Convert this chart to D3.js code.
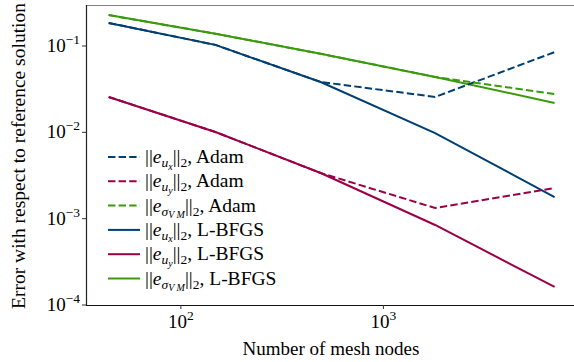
<!DOCTYPE html>
<html>
<head>
<meta charset="utf-8">
<script src="https://cdn.jsdelivr.net/npm/d3@7"></script>
<style>
  body { margin: 0; background: #fff; }
  svg { font-family: "Liberation Serif", "DejaVu Serif", serif; }
</style>
</head>
<body>
<div id="chart"></div>
<script>
// mesh sizes (x) and error values
const nodes = [44, 148, 490, 1800, 7000];
const uxAdam = [0.185, 0.103, 0.0383, 0.0257, 0.085];
const uyAdam = [0.0257, 0.0101, 0.00338, 0.00133, 0.00226];
const vmAdam = [0.228, 0.139, 0.0812, 0.0438, 0.0278];
const uxLbfgs = [0.185, 0.103, 0.0383, 0.0098, 0.00178];
const uyLbfgs = [0.0257, 0.0101, 0.00338, 0.000845, 0.000162];
const vmLbfgs = [0.228, 0.139, 0.0812, 0.0438, 0.0219];

const xTicks = [100, 1000];
const xTickExp = ["2", "3"];
const yTicks = [1e-1, 1e-2, 1e-3, 1e-4];
const yTickExp = ["\u22121", "\u22122", "\u22123", "\u22124"];

const blue = "#003f72", red = "#9b0047", green = "#3a9a0c";

// label pieces: [text, italic, level]  level 0 = normal, 1 = sub, 2 = subsub
const subUx = [["u", 1, 1], ["x", 1, 2]];
const subUy = [["u", 1, 1], ["y", 1, 2]];
const subVM = [["\u03c3", 1, 1], ["V M", 1, 2]];

const series = [
  { vals: uxAdam, color: blue, dash: true, sub: subUx, opt: "Adam" },
  { vals: uyAdam, color: red, dash: true, sub: subUy, opt: "Adam" },
  { vals: vmAdam, color: green, dash: true, sub: subVM, opt: "Adam" },
  { vals: uxLbfgs, color: blue, dash: false, sub: subUx, opt: "L-BFGS" },
  { vals: uyLbfgs, color: red, dash: false, sub: subUy, opt: "L-BFGS" },
  { vals: vmLbfgs, color: green, dash: false, sub: subVM, opt: "L-BFGS" }
];

const width = 574, height = 362;
const margin = { top: 5, right: 0, bottom: 57, left: 86 };

const svg = d3.select("#chart").append("svg")
  .attr("width", width)
  .attr("height", height);

const x = d3.scaleLog()
  .domain([34.0, 8730])
  .range([margin.left, width - margin.right]);

const y = d3.scaleLog()
  .domain([1e-4, 0.2985])
  .range([height - margin.bottom, margin.top]);

// lines (draw L-BFGS first so the dashed Adam lines sit on top)
const line = d3.line()
  .x((d, i) => x(nodes[i]))
  .y(d => y(d));

[3, 4, 5, 0, 1, 2].forEach(k => {
  const s = series[k];
  svg.append("path")
    .datum(s.vals)
    .attr("d", line)
    .attr("fill", "none")
    .attr("stroke", s.color)
    .attr("stroke-width", 2)
    .attr("stroke-dasharray", s.dash ? "7.4,3.2" : null);
});

// spines
svg.append("line")
  .attr("x1", margin.left).attr("x2", width)
  .attr("y1", margin.top + 0.5).attr("y2", margin.top + 0.5)
  .attr("stroke", "#808080").attr("stroke-width", 1.2);
svg.append("line")
  .attr("x1", margin.left + 0.5).attr("x2", margin.left + 0.5)
  .attr("y1", margin.top).attr("y2", height - margin.bottom)
  .attr("stroke", "#222").attr("stroke-width", 1.2);
svg.append("line")
  .attr("x1", margin.left).attr("x2", width)
  .attr("y1", height - margin.bottom + 0.5).attr("y2", height - margin.bottom + 0.5)
  .attr("stroke", "#111").attr("stroke-width", 1.2);

// x ticks
const xb = height - margin.bottom;
xTicks.forEach((t, i) => {
  svg.append("line")
    .attr("x1", x(t)).attr("x2", x(t))
    .attr("y1", xb).attr("y2", xb + 4)
    .attr("stroke", "#333").attr("stroke-width", 1);
  const txt = svg.append("text")
    .attr("x", x(t)).attr("y", xb + 23)
    .attr("text-anchor", "middle")
    .attr("font-size", 19);
  txt.append("tspan").text("10");
  txt.append("tspan").attr("dy", -8).attr("font-size", 13.5).text(xTickExp[i]);
});

// y ticks
yTicks.forEach((t, i) => {
  svg.append("line")
    .attr("x1", margin.left - 4).attr("x2", margin.left)
    .attr("y1", y(t)).attr("y2", y(t))
    .attr("stroke", "#333").attr("stroke-width", 1);
  const txt = svg.append("text")
    .attr("x", margin.left - 6).attr("y", y(t) + 6)
    .attr("text-anchor", "end")
    .attr("font-size", 19);
  txt.append("tspan").text("10");
  txt.append("tspan").attr("dy", -8).attr("font-size", 13.5).text(yTickExp[i]);
});

// axis labels
svg.append("text")
  .attr("x", 331)
  .attr("y", height - 7)
  .attr("text-anchor", "middle")
  .attr("font-size", 19)
  .text("Number of mesh nodes");

svg.append("text")
  .attr("transform", `translate(25, 156) rotate(-90)`)
  .attr("text-anchor", "middle")
  .attr("font-size", 19.5)
  .text("Error with respect to reference solution");

// legend
const lg = svg.append("g");
const sizes = [19.5, 13.5, 10];
const shifts = [0, 4, 6.5];
series.forEach((s, i) => {
  const yy = 157 + i * 24.3;
  lg.append("line")
    .attr("x1", 108).attr("x2", 140)
    .attr("y1", yy).attr("y2", yy)
    .attr("stroke", s.color)
    .attr("stroke-width", 2)
    .attr("stroke-dasharray", s.dash ? "7.4,3.2" : null);

  const txt = lg.append("text")
    .attr("x", 145).attr("y", yy + 6)
    .attr("font-size", 19.5);
  let cur = 0;
  const add = (t, italic, level) => {
    txt.append("tspan")
      .attr("dy", shifts[level] - cur)
      .attr("font-size", sizes[level])
      .attr("font-style", italic ? "italic" : "normal")
      .text(t);
    cur = shifts[level];
  };
  add("||", 0, 0);
  add("e", 1, 0);
  s.sub.forEach(p => add(p[0], p[1], p[2]));
  add("||", 0, 0);
  add("2", 0, 1);
  add(", " + s.opt, 0, 0);
});
</script>
</body>
</html>
